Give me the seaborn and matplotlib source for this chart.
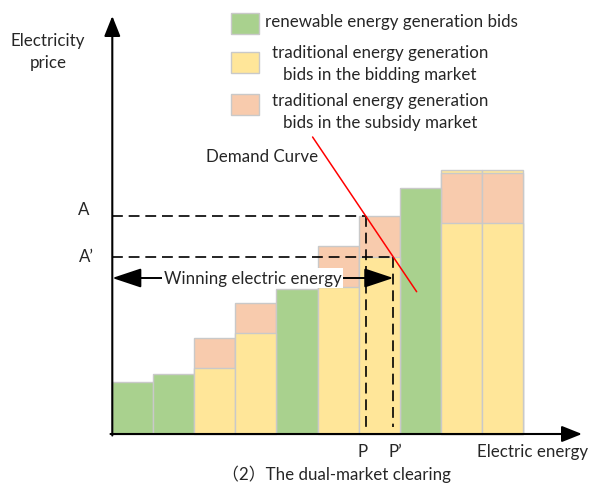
import matplotlib
matplotlib.use("Agg")
import matplotlib.pyplot as plt
from matplotlib.patches import Rectangle
import numpy as np
import pandas as pd
import seaborn as sns

# ---------------- data ----------------
bars = ["1", "2", "3", "4", "5", "6", "7", "8", "9", "10"]
kinds = ["renewable", "renewable", "traditional", "traditional", "renewable",
         "traditional", "traditional", "renewable", "traditional", "traditional"]
base_price = [5.2, 6.0, 6.6, 10.1, 14.5, 14.7, 17.7, 24.6, 21.1, 21.1]
subsidy_price = [0, 0, 3.0, 3.0, 0, 4.1, 4.1, 0, 5.0, 5.0]
top_strip = [0, 0, 0, 0, 0, 0, 0, 0, 0.26, 0.26]

price_A = base_price[6] + subsidy_price[6]
price_A2 = base_price[6]
energy_P = 5.675
energy_P2 = 6.347
demand_y = [29.7, 14.23]
winning_y = 15.6

legend_labels = ["renewable energy generation bids",
                 "traditional energy generation\nbids in the bidding market",
                 "traditional energy generation\nbids in the subsidy market"]

GREEN = "#A9D18E"
YELLOW = "#FFE699"
PEACH = "#F8CBAD"
EDGE = "#C9C9C9"

# ---------------- figure ----------------
sns.set_style("white")
plt.rcParams["font.family"] = ["Lato", "Noto Sans CJK SC", "DejaVu Sans"]
W, H = 589, 485
fig = plt.figure(figsize=(W / 100, H / 100), dpi=100)
ax = fig.add_axes([0, 0, 1, 1])

df = pd.DataFrame({"bar": bars, "kind": kinds, "base": base_price,
                   "sub": subsidy_price, "strip": top_strip})
df["mid"] = df["base"] + df["sub"]
df["top"] = df["mid"] + df["strip"]

bkw = dict(order=bars, width=1.0, edgecolor=EDGE, linewidth=1.0,
           saturation=1, ax=ax)
sns.barplot(data=df[df["strip"] > 0], x="bar", y="top", color=YELLOW, **bkw)
sns.barplot(data=df[df["sub"] > 0], x="bar", y="mid", color=PEACH, **bkw)
sns.barplot(data=df, x="bar", y="base", hue="kind", dodge=False,
            palette={"renewable": GREEN, "traditional": YELLOW},
            legend=False, **bkw)
for p in ax.patches:
    p.set_edgecolor(EDGE)
    p.set_linewidth(1.0)

# pixel mapping: bar unit = 41.04 px, price unit = 10 px, origin at (112.3, 435)
ux, uy = 41.04, 10.0
x0px, y0px = 112.3, 435.0
ax.set_xlim(-0.5 - x0px / ux, -0.5 + (W - x0px) / ux)
ax.set_ylim(-(H - y0px) / uy, y0px / uy)
ax.axis("off")

xa = -0.5
def dx(px):
    return (px - x0px) / ux - 0.5
def dy(py):
    return (y0px - py) / uy

# axes arrows
ax.annotate("", xy=(dx(582), 0), xytext=(dx(110.5), 0),
            arrowprops=dict(arrowstyle="-|>,head_length=0.95,head_width=0.38",
                            mutation_scale=13, color="black", lw=1.5,
                            shrinkA=0, shrinkB=0), zorder=5)
ax.annotate("", xy=(xa, dy(17)), xytext=(xa, dy(436.5)),
            arrowprops=dict(arrowstyle="-|>,head_length=0.95,head_width=0.38",
                            mutation_scale=13, color="black", lw=1.5,
                            shrinkA=0, shrinkB=0), zorder=5)

# dashed guide lines
dash = (0, (6.5, 3.5))
ax.plot([xa, energy_P], [price_A, price_A], color="black", lw=1.2, ls=dash, zorder=4)
ax.plot([xa, energy_P2], [price_A2, price_A2], color="black", lw=1.2, ls=dash, zorder=4)
ax.plot([energy_P, energy_P], [price_A, dy(428)], color="black", lw=1.2, ls=dash, zorder=4)
ax.plot([energy_P2, energy_P2], [price_A2, dy(428)], color="black", lw=1.2, ls=dash, zorder=4)

# demand curve through (P, A) and (P', A')
slope = (price_A - price_A2) / (energy_P - energy_P2)
demand_x = [energy_P + (y - price_A) / slope for y in demand_y]
ax.plot(demand_x, demand_y, color="#FF0000", lw=1.1, zorder=4)

# winning energy arrow
ax.annotate("", xy=(energy_P2, winning_y), xytext=(xa, winning_y),
            arrowprops=dict(arrowstyle="<|-|>,head_length=1.5,head_width=0.5",
                            mutation_scale=12, color="black", lw=1.4,
                            shrinkA=0, shrinkB=0), zorder=5)

def ptext(x, y, s, **kw):
    kw.setdefault("ha", "center")
    kw.setdefault("va", "center")
    kw.setdefault("fontsize", 12.2)
    return fig.text(x / W, 1 - y / H, s, **kw)

ptext(252.5, 279, "Winning electric energy", zorder=6,
      bbox=dict(facecolor="white", edgecolor="none", pad=1.5))
ptext(48, 52, "Electricity\nprice", linespacing=1.4)
ptext(262, 157, "Demand Curve")
ptext(84, 210, "A")
ptext(86, 257, "A\u2019")
ptext(363, 452, "P")
ptext(395, 452, "P\u2019")
ptext(533, 452, "Electric energy")
ptext(336, 474, "\uff082\uff09The dual-market clearing")

# legend (manual)
for (ytop, ybot), col in zip([(14, 35), (53, 74), (95, 116)], [GREEN, YELLOW, PEACH]):
    fig.patches.append(Rectangle((231 / W, 1 - ybot / H), 28 / W, (ybot - ytop) / H,
                                 transform=fig.transFigure, facecolor=col,
                                 edgecolor=EDGE, lw=1.0))
ptext(265, 22, legend_labels[0], ha="left")
ptext(380, 64, legend_labels[1], linespacing=1.4)
ptext(380, 112, legend_labels[2], linespacing=1.4)

fig.savefig("out.png", dpi=100)
